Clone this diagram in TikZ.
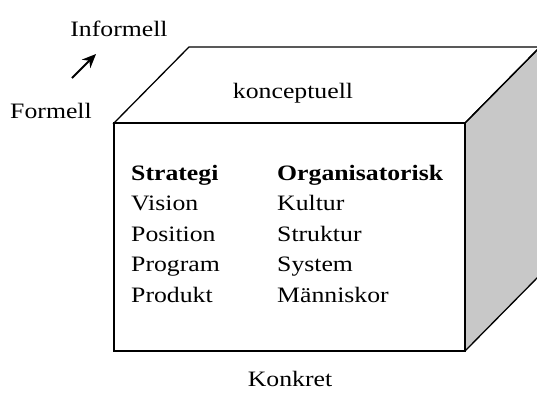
\documentclass[tikz,border=0pt]{standalone}
\usepackage{fontspec}
\setmainfont[FakeStretch=1.17]{Liberation Serif}
\usetikzlibrary{arrows.meta}
\begin{document}
\begin{tikzpicture}[x=1pt,y=-1pt,
  edge/.style={draw=black,line width=1.3pt,line join=miter},
  lbl/.style={inner sep=0pt,font=\fontsize{22}{24}\selectfont},
  col/.style={inner sep=0pt,anchor=north west,align=left,
    font=\fontsize{22}{30.5}\selectfont}]
  \useasboundingbox (0,0) rectangle (537,392);
  % cube corners
  \coordinate (fa) at (114,123);
  \coordinate (fb) at (465,123);
  \coordinate (fc) at (465,351);
  \coordinate (fd) at (114,351);
  \coordinate (ba) at (189,47);
  \coordinate (bb) at (540,47);
  \coordinate (bc) at (540,275);
  % right face (shaded)
  \path[fill={rgb,255:red,200;green,200;blue,200}] (fb) -- (bb) -- (bc) -- (fc) -- cycle;
  % top face
  \draw[edge,fill=white] (fa) -- (ba) -- (bb) -- (fb) -- cycle;
  \draw[edge] (fb) -- (bb) -- (bc) -- (fc);
  % front face
  \draw[edge,fill=white] (fa) rectangle (fc);
  % labels
  \node[lbl] (inf) at (119,29) {Informell};
  \node[lbl] (form) at (51,111) {Formell};
  \coordinate (ar0) at (72,78);
  \coordinate (ar1) at (96,54);
  \draw[line width=1.8pt,-{Stealth[length=14pt,width=12pt]}] (ar0) -- (ar1);
  \node[lbl] (konc) at (293,93) {konceptuell};
  \node[lbl,anchor=base] (konk) at (290,386) {Konkret};
  \node[col] (left) at (131,165) {\textbf{Strategi}\\Vision\\Position\\Program\\Produkt};
  \node[col] (right) at (277,165) {\textbf{Organisatorisk}\\Kultur\\Struktur\\System\\Människor};
\end{tikzpicture}
\end{document}
